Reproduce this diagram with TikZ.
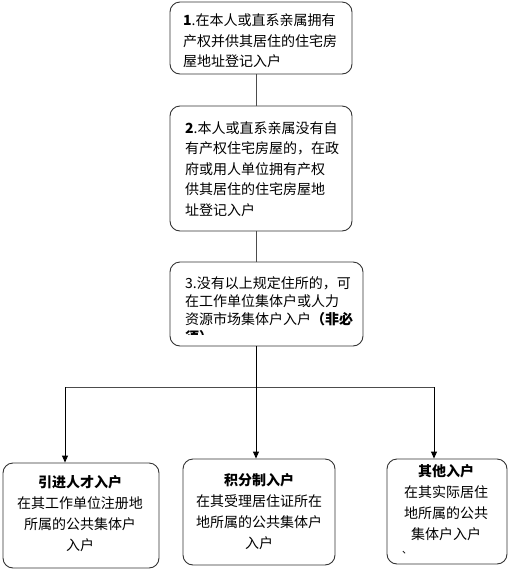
\documentclass[tikz,border=0pt]{standalone}
\usepackage{fontspec}
\newfontfamily\cjk{Noto Sans CJK SC}
\usetikzlibrary{arrows.meta}
\begin{document}
\begin{tikzpicture}[x=1pt,y=-1pt,
 box/.style={draw=black!80, line width=0.9pt, rounded corners=10pt, inner sep=0pt},
 txt/.style={font=\cjk\fontsize{14}{20.5}\selectfont, align=left, inner sep=0pt},
 txtb/.style={font=\cjk\fontsize{14}{18.3}\selectfont, align=left, inner sep=0pt},
 ctxt/.style={font=\cjk\fontsize{14}{21}\selectfont, align=center, inner sep=0pt},
 conn/.style={draw=black!70, line width=0.9pt},
 arr/.style={draw=black, line width=0.9pt, -{Triangle[length=7pt,width=6pt]}}]
\useasboundingbox (0,0) rectangle (510,571);
% boxes
\node[box, minimum width=182pt, minimum height=72pt] (b1) at (261,38) {};
\node[box, minimum width=182pt, minimum height=125pt] (b2) at (261,168.5) {};
\node[box, minimum width=193pt, minimum height=84pt] (b3) at (266.5,304) {};
\node[box, minimum width=156pt, minimum height=105pt] (l) at (81,515.5) {};
\node[box, minimum width=152pt, minimum height=106pt] (m) at (259,512) {};
\node[box, minimum width=120pt, minimum height=105pt] (r) at (447,511.5) {};
% texts
\node[txt, anchor=west] (t1) at (183,41) {\textbf{1}.在本人或直系亲属拥有\\产权并供其居住的住宅房\\屋地址登记入户};
\node[txt, anchor=west] (t2) at (185,169) {\textbf{2}.本人或直系亲属没有自\\有产权住宅房屋的，在政\\府或用人单位拥有产权\\供其居住的住宅房屋地\\址登记入户};
\begin{scope}
\clip (171,263) rectangle (362,334);
\node[txtb, anchor=north west] (t3) at (185,276) {3.没有以上规定住所的，可\\在工作单位集体户或人力\\资源市场集体户入户\textbf{（非必}\\\textbf{须）}};
\end{scope}
\node[ctxt] (tl) at (80,514) {\textbf{引进人才入户}\\在其工作单位注册地\\所属的公共集体户\\入户};
\node[ctxt] (tm) at (259,512) {\textbf{积分制入户}\\在其受理居住证所在\\地所属的公共集体户\\入户};
\node[ctxt] (tr) at (446,503) {\textbf{其他入户}\\在其实际居住\\地所属的公共\\集体户入户};
\node[font=\cjk\fontsize{10}{10}\selectfont, inner sep=0pt] (dot) at (407,553) {、};
% connectors
\coordinate (cx) at (256,0);
\coordinate (jl) at (65,387);
\coordinate (jr) at (434,387);
\draw[conn] (b1.south -| cx) -- (b2.north -| cx);
\draw[conn] (b2.south -| cx) -- (b3.north -| cx);
\draw[conn] (jl) -- (jr);
\draw[arr] (b3.south -| cx) -- (cx |- m.north);
\draw[arr] (jl) -- (jl |- l.north);
\draw[arr] (jr) -- (jr |- r.north);
\end{tikzpicture}
\end{document}
